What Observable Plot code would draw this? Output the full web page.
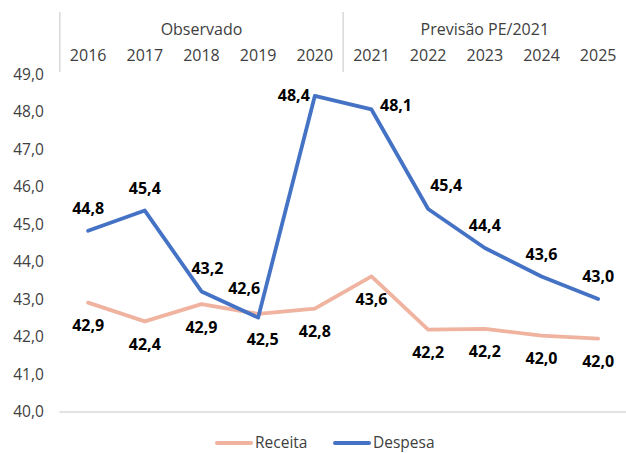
<!DOCTYPE html>
<html>
<head>
<meta charset="utf-8">
<script src="https://cdn.jsdelivr.net/npm/d3@7"></script>
<script src="https://cdn.jsdelivr.net/npm/@observablehq/plot@0.6"></script>
<style>
  html, body { margin: 0; padding: 0; background: #fff; }
  #wrap { position: relative; width: 626px; height: 453px; overflow: hidden; font-family: "Open Sans", sans-serif; }
  #legend { position: absolute; left: 0; top: 432px; width: 626px; height: 21px; color: #404040; font-size: 15.5px; }
  .item { position: absolute; top: 0; height: 21px; line-height: 21px; display: flex; align-items: center; }
  .sw { width: 38px; height: 4px; border-radius: 2px; margin-right: 2px; }
</style>
</head>
<body>
<div id="wrap">
  <div id="chart"></div>
  <div id="legend"></div>
</div>
<script>
// ---- data ----
const years = ["2016", "2017", "2018", "2019", "2020", "2021", "2022", "2023", "2024", "2025"];
const receita = [42.92, 42.42, 42.88, 42.62, 42.76, 43.62, 42.20, 42.22, 42.04, 41.96];
const despesa = [44.84, 45.38, 43.22, 42.52, 48.44, 48.08, 45.42, 44.38, 43.62, 43.02];
const seriesNames = ["Receita", "Despesa"];
const groupNames = ["Observado", "Previsão PE/2021"];
const groupSpans = [[0, 4], [5, 9]];
const yTicks = [40, 41, 42, 43, 44, 45, 46, 47, 48, 49];

// ---- styles ----
const colors = { Receita: "#EFB3A0", Despesa: "#4472C4" };
const fmt = v => v.toFixed(1).replace(".", ",");

const rows = [];
years.forEach((yr, i) => {
  rows.push({ series: "Receita", i, year: yr, v: receita[i] });
  rows.push({ series: "Despesa", i, year: yr, v: despesa[i] });
});

// label nudges (pixel offsets) for a few crowded labels
const nudge = {
  "Despesa-2018": [6, -23],
  "Receita-2019": [-14, -25],
  "Despesa-2019": [4.5, 22],
  "Despesa-2020": [-21, 0],
  "Despesa-2021": [24.5, -4],
  "Despesa-2022": [18, -23.5]
};
const labelMarks = rows.map(r => {
  const other = r.series === "Receita" ? despesa[r.i] : receita[r.i];
  const above = r.v > other;
  const [dx, dy] = nudge[r.series + "-" + r.year] || [0, above ? -22 : 23.5];
  return Plot.text([r], {
    x: "i", y: "v", text: d => fmt(d.v), dx, dy,
    fontSize: 16, fontWeight: "bold", fill: "#000"
  });
});

const groups = groupNames.map((g, k) => ({ name: g, c: (groupSpans[k][0] + groupSpans[k][1]) / 2 }));
const separators = groupSpans.map(s => s[0] - 0.5);

const chart = Plot.plot({
  width: 626,
  height: 432,
  marginTop: 74.5,
  marginBottom: 20.5,
  marginLeft: 59.3,
  marginRight: 0,
  style: { fontFamily: "Open Sans, sans-serif", fontSize: "15.5px", color: "#404040", background: "#fff" },
  x: { domain: [-0.5, years.length - 0.5] },
  y: { domain: [40, 49] },
  marks: [
    Plot.ruleY([40], { stroke: "#d9d9d9", strokeWidth: 1.5 }),
    Plot.ruleX(separators, { stroke: "#d9d9d9", strokeWidth: 1.5, insetTop: -62.5, insetBottom: 339.5 }),
    Plot.axisY({ ticks: yTicks, tickFormat: fmt, tickSize: 0, tickPadding: 16, label: null, fontSize: 15.5, fill: "#404040" }),
    Plot.axisX({ anchor: "top", ticks: years.map((_, i) => i), tickFormat: i => years[i], tickSize: 0, tickPadding: 14, label: null, fontSize: 16, fill: "#404040" }),
    Plot.text(groups, { x: "c", text: "name", frameAnchor: "top", dy: -51, fontSize: 16, fill: "#404040" }),
    Plot.line(rows.filter(r => r.series === "Receita"), { x: "i", y: "v", stroke: colors.Receita, strokeWidth: 3.8 }),
    Plot.line(rows.filter(r => r.series === "Despesa"), { x: "i", y: "v", stroke: colors.Despesa, strokeWidth: 3.8 }),
    ...labelMarks
  ]
});
document.getElementById("chart").appendChild(chart);

// legend
const legend = document.getElementById("legend");
const lefts = { Receita: 215, Despesa: 333 };
seriesNames.forEach(s => {
  const it = document.createElement("div");
  it.className = "item";
  it.style.left = lefts[s] + "px";
  const sw = document.createElement("span");
  sw.className = "sw";
  sw.style.background = colors[s];
  const t = document.createElement("span");
  t.textContent = s;
  it.appendChild(sw);
  it.appendChild(t);
  legend.appendChild(it);
});
</script>
</body>
</html>
